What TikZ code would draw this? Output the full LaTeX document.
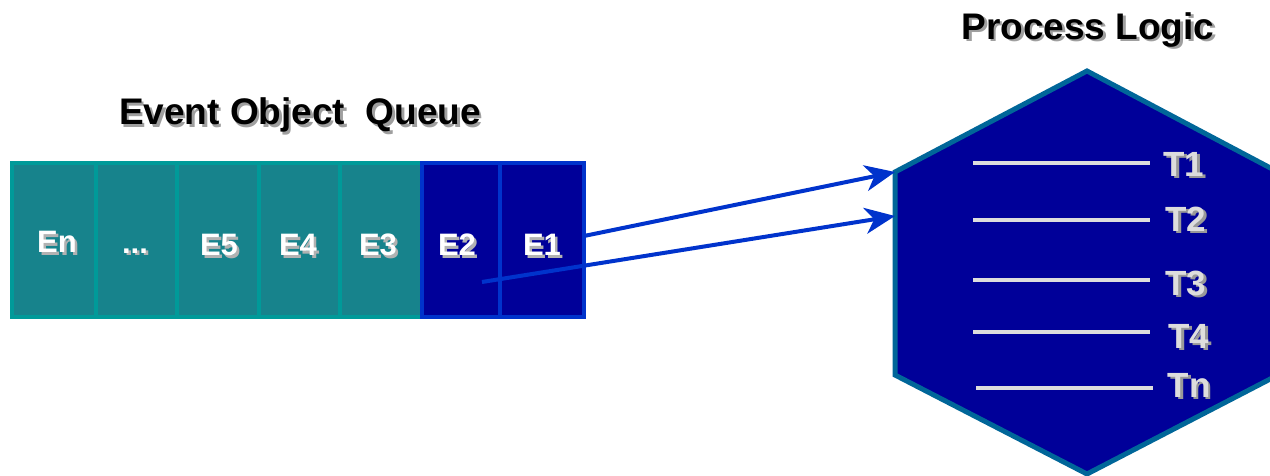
\documentclass[tikz,border=0pt]{standalone}
\usepackage{fontspec}
\setmainfont{Liberation Sans}
\usetikzlibrary{arrows.meta}
\definecolor{tealfill}{HTML}{17838C}
\definecolor{tealedge}{HTML}{009A99}
\definecolor{navyfill}{HTML}{000099}
\definecolor{blueedge}{HTML}{0033CC}
\definecolor{hexedge}{HTML}{006699}
\definecolor{tline}{HTML}{DDDDDD}
\newcommand{\shtext}[5]{%
  \node[#3, text=#4, xshift=2.5pt, yshift=-2.5pt] (#1-sh) at #2 {#5};
  \node[#3] (#1) at #2 {#5};}
\tikzset{
  title/.style={inner sep=0pt, font=\fontsize{37}{44}\selectfont\bfseries, text=black},
  celltxt/.style={inner sep=0pt, font=\fontsize{31}{38}\selectfont\bfseries, text=white},
  ttxt/.style={inner sep=0pt, font=\fontsize{35}{42}\selectfont\bfseries, text=tline},
  tealcell/.style={draw=tealedge, fill=tealfill, line width=4pt, minimum height=154pt, inner sep=0pt},
  bluecell/.style={draw=blueedge, fill=navyfill, line width=4pt, minimum height=154pt, inner sep=0pt},
  flow/.style={draw=blueedge, line width=4pt, -{Stealth[length=30pt, width=26pt, inset=9pt]}},
  tick/.style={draw=tline, line width=3.5pt},
}
\begin{document}
\begin{tikzpicture}[x=1pt, y=-1pt]
\useasboundingbox (0,0) rectangle (1270,476);
\clip (0,0) rectangle (1270,476);
% titles
\shtext{tq}{(300,115)}{title}{gray!75}{Event Object\ \ Queue}
\shtext{tp}{(1088,30)}{title}{gray!75}{Process Logic}
% queue cells
\node[tealcell, minimum width=84pt] (cn) at (54,240) {};
\node[tealcell, minimum width=81pt] (cd) at (136.5,240) {};
\node[tealcell, minimum width=82pt] (c5) at (218,240) {};
\node[tealcell, minimum width=81pt] (c4) at (299.5,240) {};
\node[tealcell, minimum width=82pt] (c3) at (381,240) {};
\node[bluecell, minimum width=78pt] (c2) at (461,240) {};
\node[bluecell, minimum width=84pt] (c1) at (542,240) {};
\shtext{ln}{(57,242)}{celltxt}{gray!60}{En}
\shtext{ld}{(135,251)}{celltxt}{gray!60}{...}
\shtext{l5}{(219,245)}{celltxt}{gray!60}{E5}
\shtext{l4}{(298,245)}{celltxt}{gray!60}{E4}
\shtext{l3}{(378,245)}{celltxt}{gray!60}{E3}
\shtext{l2}{(457,245)}{celltxt}{gray!60}{E2}
\shtext{l1}{(542,245)}{celltxt}{gray!60}{E1}
% hexagon
\coordinate (ht) at (1087,71);
\coordinate (hur) at (1278,172);
\coordinate (hlr) at (1278,375);
\coordinate (hb) at (1087,474);
\coordinate (hll) at (895,375);
\coordinate (hul) at (895,172);
\coordinate (hin) at (895,216);
\draw[hexedge, fill=navyfill, line width=5pt, line join=miter] (ht) -- (hur) -- (hlr) -- (hb) -- (hll) -- (hul) -- cycle;
% task lines
\foreach \n/\y/\xa/\xb in {1/163/973/1150, 2/220/973/1150, 3/280/973/1150, 4/332/973/1150, 5/388/976/1153} {
  \coordinate (a\n) at (\xa,\y);
  \coordinate (b\n) at (\xb,\y);
  \draw[tick] (a\n) -- (b\n);
}
\shtext{t1}{(1184,164)}{ttxt}{gray!80}{T1}
\shtext{t2}{(1186,219)}{ttxt}{gray!80}{T2}
\shtext{t3}{(1186,283)}{ttxt}{gray!80}{T3}
\shtext{t4}{(1189,336)}{ttxt}{gray!80}{T4}
\shtext{tn}{(1189,385)}{ttxt}{gray!80}{Tn}
% arrows
\coordinate (s1) at (584,236);
\coordinate (s2) at (482,282);
\draw[flow] (s1) -- (hul);
\draw[flow] (s2) -- (hin);
\end{tikzpicture}
\end{document}
